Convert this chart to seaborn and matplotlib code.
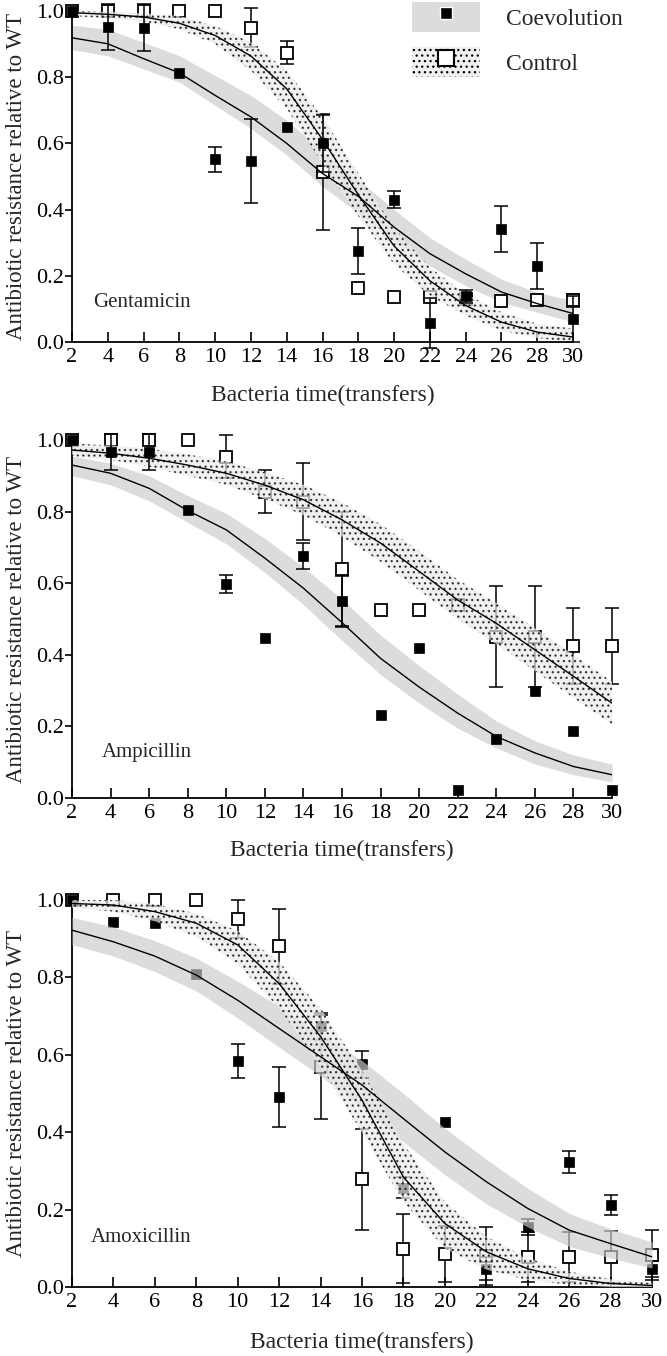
import numpy as np
import matplotlib
matplotlib.use('Agg')
import matplotlib.pyplot as plt
import seaborn as sns
from matplotlib.patches import Patch
from matplotlib.lines import Line2D
from matplotlib.legend_handler import HandlerTuple

# transfers
x = [2, 4, 6, 8, 10, 12, 14, 16, 18, 20, 22, 24, 26, 28, 30]
xticks = x
yticks = [0.0, 0.2, 0.4, 0.6, 0.8, 1.0]

antibiotics = ['Gentamicin', 'Ampicillin', 'Amoxicillin']

# Gentamicin
gen_coev = [1.0, 0.952, 0.95, 0.813, 0.552, 0.546, 0.65, 0.60, 0.275, 0.43, 0.057, 0.138, 0.342, 0.23, 0.07]
gen_coev_err = [0, 0.07, 0.07, 0, 0.038, 0.127, 0, 0.085, 0.07, 0.025, 0.075, 0.02, 0.07, 0.07, 0.07]
gen_ctrl = [1.0, 1.0, 1.0, 1.0, 1.0, 0.95, 0.874, 0.514, 0.164, 0.136, 0.136, 0.13, 0.124, 0.126, 0.126]
gen_ctrl_err = [0, 0, 0, 0, 0, 0.06, 0.035, 0.175, 0, 0, 0.01, 0.01, 0, 0, 0.02]
gen_coev_fit = [0.919, 0.901, 0.856, 0.813, 0.745, 0.68, 0.60, 0.509, 0.44, 0.347, 0.267, 0.206, 0.151, 0.116, 0.086]
gen_coev_hi = [0.957, 0.945, 0.905, 0.865, 0.805, 0.745, 0.67, 0.575, 0.49, 0.40, 0.315, 0.25, 0.19, 0.15, 0.125]
gen_coev_lo = [0.883, 0.865, 0.825, 0.785, 0.715, 0.645, 0.565, 0.47, 0.39, 0.305, 0.23, 0.17, 0.12, 0.09, 0.06]
gen_ctrl_fit = [0.995, 0.99, 0.982, 0.963, 0.926, 0.864, 0.765, 0.612, 0.445, 0.29, 0.185, 0.11, 0.06, 0.03, 0.015]
gen_ctrl_hi = [1.0, 0.997, 0.993, 0.985, 0.955, 0.905, 0.82, 0.68, 0.51, 0.345, 0.225, 0.145, 0.09, 0.055, 0.04]
gen_ctrl_lo = [0.985, 0.978, 0.968, 0.945, 0.9, 0.82, 0.705, 0.54, 0.38, 0.235, 0.14, 0.08, 0.035, 0.012, 0.0]

# Ampicillin
amp_coev = [1.0, 0.966, 0.967, 0.805, 0.598, 0.448, 0.676, 0.551, 0.231, 0.42, 0.023, 0.165, 0.30, 0.186, 0.023]
amp_coev_err = [0, 0.05, 0.05, 0, 0.025, 0, 0.035, 0.07, 0, 0, 0, 0, 0, 0, 0]
amp_ctrl = [1.0, 1.0, 1.0, 1.0, 0.953, 0.856, 0.828, 0.639, 0.526, 0.526, 0.54, 0.451, 0.451, 0.425, 0.425]
amp_ctrl_err = [0, 0, 0, 0, 0.06, 0.06, 0.107, 0.16, 0, 0, 0, 0.142, 0.142, 0.107, 0.107]
amp_coev_fit = [0.93, 0.907, 0.865, 0.803, 0.749, 0.67, 0.586, 0.49, 0.39, 0.31, 0.237, 0.172, 0.126, 0.088, 0.065]
amp_coev_hi = [0.955, 0.935, 0.9, 0.845, 0.795, 0.725, 0.645, 0.555, 0.455, 0.37, 0.29, 0.215, 0.16, 0.12, 0.095]
amp_coev_lo = [0.9, 0.875, 0.83, 0.77, 0.71, 0.63, 0.54, 0.44, 0.345, 0.265, 0.195, 0.14, 0.095, 0.065, 0.045]
amp_ctrl_fit = [0.972, 0.963, 0.949, 0.93, 0.907, 0.874, 0.833, 0.777, 0.712, 0.633, 0.553, 0.488, 0.414, 0.34, 0.265]
amp_ctrl_hi = [0.99, 0.985, 0.975, 0.96, 0.94, 0.91, 0.875, 0.825, 0.765, 0.69, 0.61, 0.545, 0.475, 0.4, 0.325]
amp_ctrl_lo = [0.955, 0.945, 0.925, 0.9, 0.875, 0.835, 0.79, 0.73, 0.66, 0.58, 0.5, 0.43, 0.355, 0.28, 0.205]

# Amoxicillin
amx_coev = [1.0, 0.944, 0.94, 0.81, 0.584, 0.491, 0.674, 0.575, 0.257, 0.427, 0.047, 0.155, 0.323, 0.211, 0.047]
amx_coev_err = [0, 0, 0, 0, 0.044, 0.078, 0.035, 0.035, 0.026, 0, 0.03, 0.02, 0.028, 0.026, 0.02]
amx_ctrl = [1.0, 1.0, 1.0, 1.0, 0.951, 0.881, 0.569, 0.278, 0.099, 0.086, 0.08, 0.078, 0.078, 0.078, 0.082]
amx_ctrl_err = [0, 0, 0, 0, 0.05, 0.097, 0.134, 0.131, 0.089, 0.072, 0.075, 0.065, 0.065, 0.067, 0.065]
amx_coev_fit = [0.922, 0.892, 0.855, 0.806, 0.741, 0.668, 0.595, 0.522, 0.435, 0.349, 0.272, 0.203, 0.147, 0.112, 0.078]
amx_coev_hi = [0.955, 0.93, 0.895, 0.85, 0.79, 0.725, 0.655, 0.585, 0.5, 0.41, 0.33, 0.255, 0.19, 0.15, 0.116]
amx_coev_lo = [0.885, 0.855, 0.815, 0.765, 0.695, 0.62, 0.545, 0.465, 0.375, 0.29, 0.215, 0.155, 0.105, 0.075, 0.049]
amx_ctrl_fit = [0.991, 0.987, 0.97, 0.94, 0.884, 0.784, 0.647, 0.483, 0.284, 0.164, 0.091, 0.047, 0.022, 0.009, 0.004]
amx_ctrl_hi = [1.0, 1.0, 0.99, 0.965, 0.92, 0.84, 0.72, 0.56, 0.37, 0.22, 0.13, 0.075, 0.04, 0.02, 0.01]
amx_ctrl_lo = [0.98, 0.97, 0.945, 0.905, 0.835, 0.72, 0.57, 0.4, 0.22, 0.1, 0.045, 0.018, 0.006, 0.0, 0.0]

panels = [
    (gen_coev, gen_coev_err, gen_ctrl, gen_ctrl_err, gen_coev_fit, gen_coev_lo, gen_coev_hi, gen_ctrl_fit, gen_ctrl_lo, gen_ctrl_hi),
    (amp_coev, amp_coev_err, amp_ctrl, amp_ctrl_err, amp_coev_fit, amp_coev_lo, amp_coev_hi, amp_ctrl_fit, amp_ctrl_lo, amp_ctrl_hi),
    (amx_coev, amx_coev_err, amx_ctrl, amx_ctrl_err, amx_coev_fit, amx_coev_lo, amx_coev_hi, amx_ctrl_fit, amx_ctrl_lo, amx_ctrl_hi),
]

sns.set_style('ticks')
plt.rcParams['font.family'] = ['Liberation Serif', 'DejaVu Serif']
plt.rcParams['hatch.linewidth'] = 0.9
plt.rcParams['hatch.color'] = 'black'

W, H = 667, 1356
fig = plt.figure(figsize=(W / 100, H / 100), dpi=100)

# axes boxes in pixels: left, right, top, bottom
boxes = [(72, 573, 11, 342), (72, 612, 440, 798), (72, 652, 900, 1287)]
label_pos = [(3.2, 0.12), (3.55, 0.128), (2.9, 0.127)]
xlab_gap = [43, 42, 45]

GRAY = '#cbcbcb'
DOTS = '#ebebeb'
HATCH = '...'

for i, (ax_box, p) in enumerate(zip(boxes, panels)):
    l, r, t, b = ax_box
    ax = fig.add_axes([l / W, 1 - b / H, (r - l) / W, (b - t) / H])
    coev, coev_err, ctrl, ctrl_err, cfit, clo, chi, kfit, klo, khi = p
    xa = np.array(x)
    top = (i == 2)  # bands drawn over the markers in the last panel

    zb = 6 if top else 1
    ax.fill_between(xa, clo, chi, color=GRAY, alpha=0.67, lw=0, zorder=zb)
    ax.fill_between(xa, klo, khi, facecolor=DOTS, edgecolor='black', hatch=HATCH,
                    alpha=0.7, lw=0, zorder=zb + 1 if top else 3)

    # control, open squares
    ce = np.array(ctrl_err)
    m = ce > 0
    ax.errorbar(xa[m], np.array(ctrl)[m], yerr=ce[m], fmt='none', ecolor='black',
                elinewidth=1.1, capsize=5, capthick=1.1, zorder=2, clip_on=False)
    ax.plot(xa, ctrl, 's', ms=9 if i else 8, mfc='white', mec='black', mew=1.3,
            ls='none', zorder=2.5, clip_on=False)

    # coevolution, filled squares
    ee = np.array(coev_err)
    m = ee > 0
    ax.errorbar(xa[m], np.array(coev)[m], yerr=ee[m], fmt='none', ecolor='black',
                elinewidth=1.1, capsize=5, capthick=1.1, zorder=4, clip_on=False)
    ax.plot(xa, coev, 's', ms=7.3, mfc='black', mec='black', mew=0.5,
            ls='none', zorder=4.5, clip_on=False)

    # fitted curves
    sns.lineplot(x=xa, y=cfit, ax=ax, color='black', lw=1.0, zorder=9)
    sns.lineplot(x=xa, y=kfit, ax=ax, color='black', lw=1.0, zorder=9)

    ax.set_xlim(2, 30)
    ax.set_ylim(0, 1.0)
    ax.set_xticks(xticks)
    ax.set_yticks(yticks)
    ax.set_yticklabels([f'{v:.1f}' for v in yticks])
    sns.despine(ax=ax)
    for s in ['left', 'bottom']:
        ax.spines[s].set_linewidth(1.3)
        ax.spines[s].set_color('black')
    ax.tick_params(axis='x', direction='in', length=7, width=1.2, labelsize=16, pad=4, colors='black')
    ax.tick_params(axis='y', direction='out', length=5, width=1.2, labelsize=16, pad=1, colors='black')

    ax.set_ylabel('Antibiotic resistance relative to WT', fontsize=16.5)
    ax.yaxis.set_label_coords((27 - l) / (r - l), 0.5)
    ax.set_xlabel('Bacteria time(transfers)', fontsize=17)
    ax.xaxis.set_label_coords(0.5, -xlab_gap[i] / (b - t))

    ax.text(label_pos[i][0], label_pos[i][1], antibiotics[i], fontsize=15,
            va='center', ha='left', zorder=10)

# legend
h1 = (Patch(facecolor='#dcdcdc', edgecolor='none'),
      Line2D([], [], marker='s', ls='none', ms=9, mfc='black', mec='white', mew=1))
h2 = (Patch(facecolor='#f0f0f0', edgecolor='black', hatch=HATCH, lw=0),
      Line2D([], [], marker='s', ls='none', ms=11, mfc='white', mec='black', mew=1.5))
fig.legend([h1, h2], ['Coevolution', 'Control'], handler_map={tuple: HandlerTuple(ndivide=1, pad=0)},
           loc='upper left', bbox_to_anchor=(412 / W, 1 - 2 / H), frameon=False,
           fontsize=17, handlelength=2.9, handleheight=1.6, labelspacing=0.62,
           handletextpad=1.1, borderpad=0, borderaxespad=0)

fig.savefig('out.png', dpi=100)
